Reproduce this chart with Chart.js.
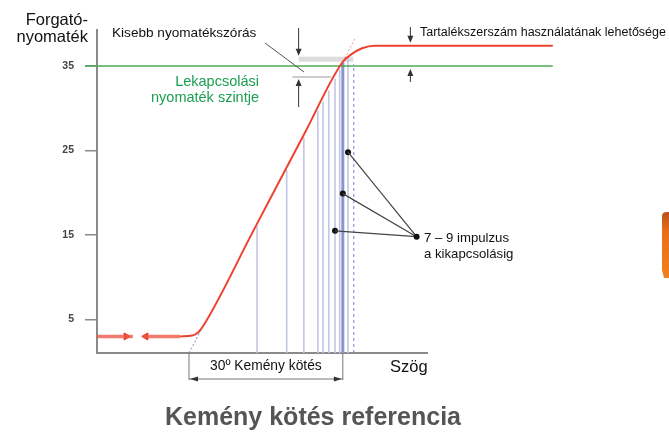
<!DOCTYPE html>
<html>
<head>
<meta charset="utf-8">
<script src="https://cdn.jsdelivr.net/npm/chart.js@4.4.1/dist/chart.umd.min.js"></script>
<style>
  html, body { margin: 0; padding: 0; background: #fff; }
  canvas { display: block; }
</style>
</head>
<body>
<canvas id="torqueChart" width="669" height="434"></canvas>
<script>
// Torque (y) vs. rotation angle in degrees (x), hard joint
const yTicks = [5, 15, 25, 35];

const idleAngle = [0, 6.9, 8.8, 16];   // two pieces with a break in between
const idleTorque = 3;
const idleArrowAngle = [5.6, 9.4];

const curveAngle  = [16, 18.3, 19.5, 20.4, 30, 40, 47.3, 49.0, 51.0, 53.5, 87.7];
const curveTorque = [3, 3.1, 3.5, 4.2, 15.4, 27.1, 35.5, 36.4, 37.1, 37.4, 37.4];

const shutoffLevel = 35;
const shutoffSpan = [-2.3, 87.7];

const impulseAngle = [30.8, 36.5, 39.8, 42.5, 43.5, 44.6, 45.8, 46.7, 48.3];
const impulseTop   = [16.0, 22.7, 26.5, 29.7, 30.8, 32.1, 33.5, 34.6, 36.0];
const lastImpulseAngle = 47.3, lastImpulseTop = 35.4;
const dashedImpulseAngle = 49.4, dashedImpulseTop = 35.2;

const dotAngle  = [48.3, 47.3, 45.8];
const dotTorque = [24.8, 19.9, 15.5];

const hardJoint = [17.7, 47.3];
const scatterBand = [35.5, 36.1];
const scatterLow = 33.7;

const FONT = "'Liberation Sans', Arial, Helvetica, sans-serif";

function pts(xs, ys) { return xs.map((x, i) => ({ x: x, y: ys[i] })); }

// idle line with a break between the arrows
const idleData = [
  { x: idleAngle[0], y: idleTorque }, { x: idleAngle[1], y: idleTorque },
  { x: (idleAngle[1] + idleAngle[2]) / 2, y: null },
  { x: idleAngle[2], y: idleTorque }, { x: idleAngle[3], y: idleTorque }
];

// every impulse as its own vertical stroke, broken by nulls
const impulseData = [];
impulseAngle.forEach((a, i) => {
  impulseData.push({ x: a, y: 1.04 }, { x: a, y: impulseTop[i] }, { x: a + 0.01, y: null });
});

function arrow(ctx, x, y0, y1) {
  const dir = y1 > y0 ? 1 : -1;
  ctx.beginPath();
  ctx.moveTo(x, y0);
  ctx.lineTo(x, y1 - dir * 5);
  ctx.stroke();
  ctx.beginPath();
  ctx.moveTo(x, y1);
  ctx.lineTo(x - 3, y1 - dir * 7);
  ctx.lineTo(x + 3, y1 - dir * 7);
  ctx.closePath();
  ctx.fill();
}

function hArrowHead(ctx, x, y, dir) {
  ctx.beginPath();
  ctx.moveTo(x, y);
  ctx.lineTo(x - dir * 8, y - 2.5);
  ctx.lineTo(x - dir * 8, y + 2.5);
  ctx.closePath();
  ctx.fill();
}

const annotations = {
  id: 'annotations',
  beforeDatasetsDraw(chart) {
    const { ctx, scales: { x, y } } = chart;
    ctx.save();
    // narrow grey band of the smaller torque scatter
    ctx.fillStyle = '#dcdcdc';
    const bx0 = x.getPixelForValue(38.8), bx1 = x.getPixelForValue(49.3);
    ctx.fillRect(bx0, y.getPixelForValue(scatterBand[1]), bx1 - bx0,
      y.getPixelForValue(scatterBand[0]) - y.getPixelForValue(scatterBand[1]));
    ctx.strokeStyle = '#9a9a9a';
    ctx.lineWidth = 1.2;
    ctx.beginPath();
    ctx.moveTo(x.getPixelForValue(37.6), y.getPixelForValue(scatterLow));
    ctx.lineTo(x.getPixelForValue(45.0), y.getPixelForValue(scatterLow));
    ctx.stroke();
    ctx.restore();
  },
  afterDatasetsDraw(chart) {
    const { ctx, scales: { x, y } } = chart;
    ctx.save();
    // leaders from the impulse dots
    ctx.strokeStyle = '#444';
    ctx.lineWidth = 1.2;
    const ax = x.getPixelForValue(61.5), ay = y.getPixelForValue(14.8);
    dotAngle.forEach((a, i) => {
      ctx.beginPath();
      ctx.moveTo(x.getPixelForValue(a), y.getPixelForValue(dotTorque[i]));
      ctx.lineTo(ax, ay);
      ctx.stroke();
    });
    ctx.fillStyle = '#111';
    ctx.beginPath();
    ctx.arc(ax, ay, 3, 0, Math.PI * 2);
    ctx.fill();
    ctx.restore();
  },
  afterDraw(chart) {
    const { ctx, scales: { x, y } } = chart;
    ctx.save();
    ctx.strokeStyle = '#333';
    ctx.fillStyle = '#333';
    ctx.lineWidth = 1;

    // arrows for the torque scatter
    const sx = x.getPixelForValue(38.8);
    arrow(ctx, sx, 28, y.getPixelForValue(scatterBand[1]) - 1);
    arrow(ctx, sx, 107, y.getPixelForValue(scatterLow) + 2);
    // arrows for the reserve
    const rx = x.getPixelForValue(60.3);
    arrow(ctx, rx, 27, y.getPixelForValue(37.4) - 3);
    arrow(ctx, rx, 82, y.getPixelForValue(shutoffLevel) + 3);

    // leader for "Kisebb nyomatékszórás"
    ctx.strokeStyle = '#555';
    ctx.beginPath();
    ctx.moveTo(265, 43);
    ctx.lineTo(304, 72);
    ctx.stroke();

    // 30 deg bracket
    const h0 = x.getPixelForValue(hardJoint[0]), h1 = x.getPixelForValue(hardJoint[1]);
    const yb = y.getPixelForValue(1.04);
    ctx.strokeStyle = '#777';
    ctx.beginPath();
    ctx.moveTo(h0, yb); ctx.lineTo(h0, yb + 27);
    ctx.moveTo(h1, yb); ctx.lineTo(h1, yb + 27);
    ctx.moveTo(h0, yb + 26); ctx.lineTo(h1, yb + 26);
    ctx.stroke();
    ctx.fillStyle = '#333';
    hArrowHead(ctx, h0 + 1, yb + 26, -1);
    hArrowHead(ctx, h1 - 1, yb + 26, 1);

    // texts
    ctx.fillStyle = '#111';
    ctx.textBaseline = 'middle';
    ctx.font = '16.5px ' + FONT;
    ctx.textAlign = 'right';
    ctx.fillText('Forgató-', 88, 20);
    ctx.fillText('nyomaték', 88, 37);

    ctx.font = '13.6px ' + FONT;
    ctx.textAlign = 'left';
    ctx.fillText('Kisebb nyomatékszórás', 112, 33);
    ctx.font = '12.5px ' + FONT;
    ctx.fillText('Tartalékszerszám használatának lehetősége', 420, 33);
    ctx.font = '13.2px ' + FONT;
    ctx.fillText('7 – 9 impulzus', 424, 238);
    ctx.fillText('a kikapcsolásig', 424, 254);
    ctx.font = '13.8px ' + FONT;
    ctx.textAlign = 'center';
    ctx.fillText('30º Kemény kötés', (h0 + h1) / 2, 366);

    ctx.fillStyle = '#1a9e50';
    ctx.textAlign = 'right';
    ctx.font = '14.5px ' + FONT;
    ctx.fillText('Lekapcsolási', 259, 82);
    ctx.fillText('nyomaték szintje', 259, 98);

    ctx.fillStyle = '#111';
    ctx.textAlign = 'left';
    ctx.font = '16.5px ' + FONT;
    ctx.fillText('Szög', 390, 367);

    ctx.fillStyle = '#555';
    ctx.textAlign = 'center';
    ctx.font = 'bold 25px ' + FONT;
    ctx.fillText('Kemény kötés referencia', 313, 418);

    // orange edge of the neighbouring picture
    const g = ctx.createLinearGradient(0, 212, 0, 278);
    g.addColorStop(0, '#b9521c');
    g.addColorStop(0.3, '#e86f1c');
    g.addColorStop(1, '#f2801e');
    ctx.fillStyle = g;
    ctx.beginPath();
    ctx.moveTo(662, 216);
    ctx.quadraticCurveTo(662, 212, 667, 212);
    ctx.lineTo(669, 212);
    ctx.lineTo(669, 278);
    ctx.lineTo(664, 278);
    ctx.lineTo(662, 270);
    ctx.closePath();
    ctx.fill();
    ctx.restore();
  }
};

const config = {
  type: 'scatter',
  data: {
    datasets: [
      {
        label: 'dots',
        data: pts(dotAngle, dotTorque),
        showLine: false,
        pointRadius: 3,
        pointBackgroundColor: '#111',
        pointBorderWidth: 0,
        order: 0
      },
      {
        label: 'torque',
        data: pts(curveAngle, curveTorque),
        showLine: true,
        borderColor: '#ee4130',
        borderWidth: 2,
        pointRadius: 0,
        cubicInterpolationMode: 'monotone',
        clip: false,
        order: 1
      },
      {
        label: 'idle',
        data: idleData,
        showLine: true,
        spanGaps: false,
        borderColor: 'rgba(240,90,72,0.8)',
        borderWidth: 3.5,
        pointRadius: 0,
        order: 2
      },
      {
        label: 'idle arrows',
        data: idleArrowAngle.map(a => ({ x: a, y: idleTorque })),
        showLine: false,
        pointStyle: 'triangle',
        pointRadius: 4,
        rotation: [90, -90],
        pointBackgroundColor: '#e8301f',
        pointBorderColor: '#e8301f',
        order: 2
      },
      {
        label: 'shutoff level',
        data: [{ x: shutoffSpan[0], y: shutoffLevel }, { x: shutoffSpan[1], y: shutoffLevel }],
        showLine: true,
        borderColor: '#4caa55',
        borderWidth: 1.5,
        pointRadius: 0,
        clip: false,
        order: 3
      },
      {
        label: 'ramp above',
        data: [{ x: 47.3, y: 35.5 }, { x: 49.6, y: 38.2 }],
        showLine: true,
        borderColor: 'rgba(240,110,90,0.7)',
        borderWidth: 1,
        borderDash: [2, 2],
        pointRadius: 0,
        order: 4
      },
      {
        label: 'ramp below',
        data: [{ x: hardJoint[0], y: 1.04 }, { x: 20.4, y: 4.2 }],
        showLine: true,
        borderColor: '#7f89cc',
        borderWidth: 1,
        borderDash: [2, 2],
        pointRadius: 0,
        order: 4
      },
      {
        label: 'last impulse',
        data: [{ x: lastImpulseAngle, y: 1.04 }, { x: lastImpulseAngle, y: lastImpulseTop }],
        showLine: true,
        borderColor: '#8c95cb',
        borderWidth: 3,
        pointRadius: 0,
        order: 5
      },
      {
        label: 'dashed impulse',
        data: [{ x: dashedImpulseAngle, y: 1.04 }, { x: dashedImpulseAngle, y: dashedImpulseTop }],
        showLine: true,
        borderColor: '#8d96d2',
        borderWidth: 1.2,
        borderDash: [3, 3],
        pointRadius: 0,
        order: 5
      },
      {
        label: 'impulses',
        data: impulseData,
        showLine: true,
        spanGaps: false,
        borderColor: '#c2c7e6',
        borderWidth: 1.6,
        pointRadius: 0,
        order: 6
      }
    ]
  },
  options: {
    responsive: false,
    animation: false,
    layout: { padding: { left: 0, top: 30, right: 242, bottom: 0 } },
    plugins: { legend: { display: false }, tooltip: { enabled: false } },
    scales: {
      x: {
        type: 'linear',
        min: 0,
        max: 63.5,
        grid: { display: false },
        ticks: { display: false },
        border: { display: true, color: '#8a8a8a', width: 2 },
        afterFit: s => { s.height = 81; }
      },
      y: {
        min: 1.04,
        max: 39.26,
        afterBuildTicks: s => { s.ticks = yTicks.map(v => ({ value: v })); },
        grid: { drawOnChartArea: false, tickLength: 12, color: '#8a8a8a', lineWidth: 1.5 },
        border: { display: true, color: '#8a8a8a', width: 2 },
        ticks: {
          padding: 11,
          color: '#444',
          font: { family: FONT, size: 10.5, weight: 'bold' }
        },
        afterFit: s => { s.width = 97; }
      }
    }
  },
  plugins: [annotations]
};

window.onload = () => {
  const ctx = document.getElementById('torqueChart').getContext('2d');
  new Chart(ctx, config);
};
</script>
</body>
</html>
